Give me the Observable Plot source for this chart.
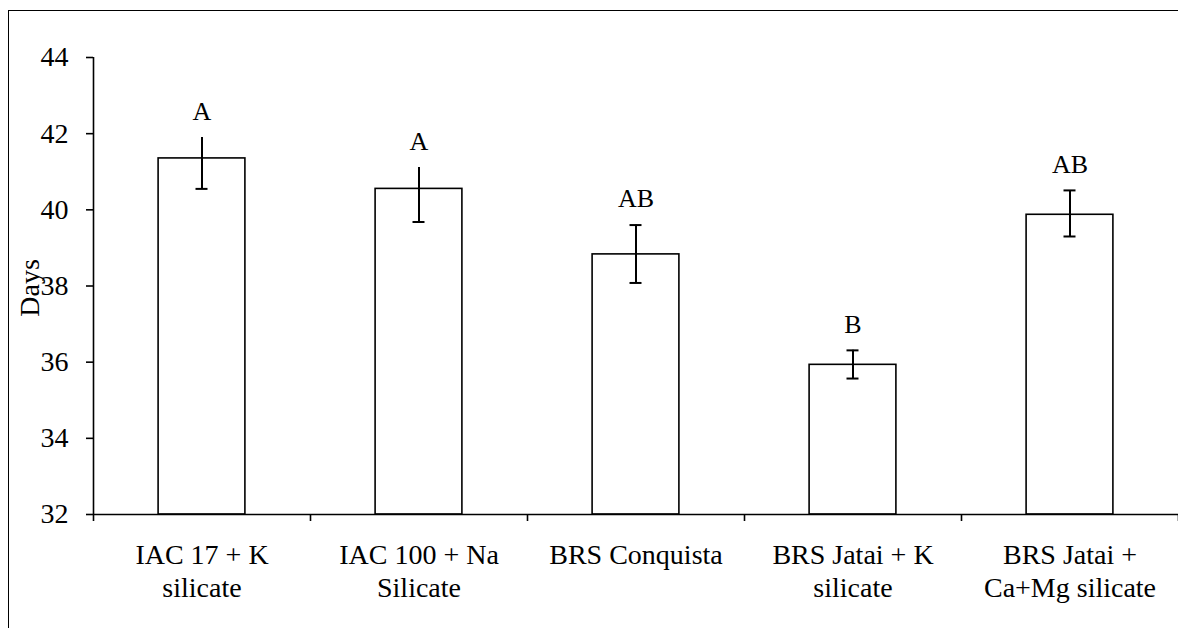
<!DOCTYPE html>
<html>
<head>
<meta charset="utf-8">
<script src="https://cdn.jsdelivr.net/npm/d3@7"></script>
<script src="https://cdn.jsdelivr.net/npm/@observablehq/plot@0.6"></script>
<style>
  html, body { margin: 0; padding: 0; background: #fff; }
  #wrap { position: relative; width: 1178px; height: 628px; overflow: hidden; }
  #frame { position: absolute; left: 8px; top: 10px; width: 1200px; height: 700px;
           border-left: 1.5px solid #000; border-top: 1.5px solid #000; }
  #chart { position: absolute; left: 0; top: 0; }
  #chart svg, #chart svg text { font-family: "Liberation Serif", "Times New Roman", serif !important; }
</style>
</head>
<body>
<div id="wrap"><div id="frame"></div><div id="chart"></div></div>
<script>
const categories = ["IAC 17 + K\nsilicate", "IAC 100 + Na\nSilicate", "BRS Conquista", "BRS Jatai + K\nsilicate", "BRS Jatai +\nCa+Mg silicate"];
const means   = [41.35, 40.55, 38.83, 35.93, 39.87];
const errHigh = [41.90, 41.11, 39.60, 36.31, 40.51];
const errLow  = [40.55, 39.68, 38.08, 35.57, 39.30];
const letters = ["A", "A", "AB", "B", "AB"];
const yTicks  = [32, 34, 36, 38, 40, 42, 44];

const data = categories.map((c, i) => ({i, c, mean: means[i], hi: errHigh[i], lo: errLow[i], letter: letters[i]}));
const bounds = d3.range(categories.length + 1);

const font = "Liberation Serif";

const chart = Plot.plot({
  width: 1178,
  height: 628,
  marginLeft: 93,
  marginRight: 0,
  marginTop: 57,
  marginBottom: 114,
  style: {fontFamily: font, fontSize: "27px", color: "#000", background: "transparent"},
  x: {type: "linear", domain: [0, categories.length], axis: null},
  y: {domain: [32, 44], axis: null},
  marks: [
    Plot.rectY(data, {x1: d => d.i + 0.3, x2: d => d.i + 0.7, y1: 32, y2: "mean", fill: "#fff", stroke: "#000", strokeWidth: 1.6}),
    Plot.ruleX(data, {x: d => d.i + 0.5, y1: "lo", y2: "hi", stroke: "#000", strokeWidth: 2}),
    Plot.ruleY(data, {x1: d => d.i + 0.5, x2: d => d.i + 0.5, y: "lo", insetLeft: -6, insetRight: -6, stroke: "#000", strokeWidth: 2}),
    Plot.ruleY(data.filter(d => d.i >= 2), {x1: d => d.i + 0.5, x2: d => d.i + 0.5, y: "hi", insetLeft: -6, insetRight: -6, stroke: "#000", strokeWidth: 2}),
    Plot.text(data, {x: d => d.i + 0.5, y: "hi", text: "letter", dy: -26, fontSize: 26, fontFamily: font, lineAnchor: "middle"}),
    // axes
    Plot.ruleX([0], {y1: 32, y2: 44, stroke: "#000", strokeWidth: 1.6}),
    Plot.ruleY([32], {stroke: "#000", strokeWidth: 1.6}),
    Plot.axisY({ticks: yTicks, tickSize: 7, tickPadding: 18, fontSize: 28, fontFamily: font, stroke: "#000", strokeWidth: 1.6, strokeOpacity: 1}),
    Plot.axisX({ticks: bounds, tickSize: 7, tickFormat: () => "", stroke: "#000", strokeWidth: 1.6, strokeOpacity: 1}),
    Plot.text(data, {x: d => d.i + 0.5, y: 32, text: "c", dy: 26, lineAnchor: "top", lineHeight: 1.17, fontSize: 28, fontFamily: font}),
    Plot.text(["Days"], {frameAnchor: "left", textAnchor: "middle", dx: -63, dy: 2, rotate: -90, fontSize: 28, fontFamily: font})
  ]
});
document.getElementById("chart").appendChild(chart);
</script>
</body>
</html>
